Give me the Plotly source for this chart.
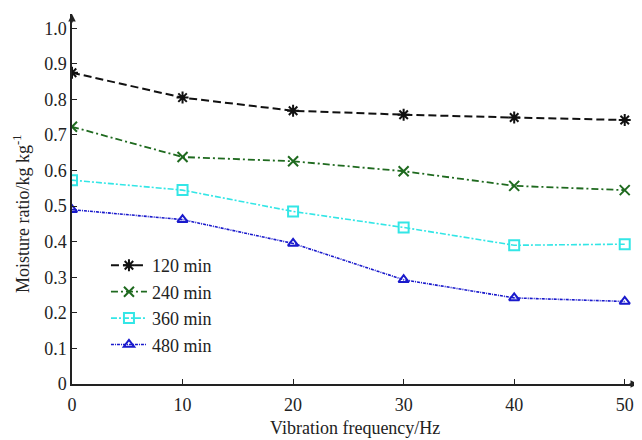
import plotly.graph_objects as go

freq = [0, 10, 20, 30, 40, 50]
mr_120 = [0.875, 0.805, 0.768, 0.757, 0.749, 0.742]
mr_240 = [0.723, 0.638, 0.626, 0.598, 0.557, 0.545]
mr_360 = [0.573, 0.545, 0.485, 0.440, 0.390, 0.393]
mr_480 = [0.490, 0.462, 0.395, 0.293, 0.242, 0.232]
series_names = ["120 min", "240 min", "360 min", "480 min"]

styles = [
    dict(color="#111111", dash="8px,4px", width=2, symbol="asterisk-open", size=10),
    dict(color="#1f6a1f", dash="7px,3px,2px,3px", width=1.8, symbol="x-thin-open", size=10),
    dict(color="#33e6e6", dash="6px,2px,2px,2px", width=1.6, symbol="square-open", size=10),
    dict(color="#1a1acc", dash="3px,1px,1px,1px", width=1.6, symbol="triangle-up-open", size=9),
]

fig = go.Figure()
for name, vals, st in zip(series_names, [mr_120, mr_240, mr_360, mr_480], styles):
    fig.add_trace(go.Scatter(
        x=freq, y=vals, name=name, mode="lines+markers",
        line=dict(color=st["color"], dash=st["dash"], width=st["width"]),
        marker=dict(symbol=st["symbol"], size=st["size"], color=st["color"],
                    line=dict(color=st["color"], width=2)),
    ))

serif = "Liberation Serif, Times New Roman, serif"
font = dict(family=serif, size=18, color="#222222")

# page body has an 8px default margin, so the figure is 8px smaller each way
fig.update_layout(
    width=634, height=432,
    margin=dict(l=64, r=4, t=6, b=56, autoexpand=False),
    paper_bgcolor="white", plot_bgcolor="white",
    font=font,
    showlegend=True,
    legend=dict(x=0.06, y=0.37, xanchor="left", yanchor="top",
                bgcolor="rgba(0,0,0,0)", font=dict(family=serif, size=18),
                itemwidth=36, tracegroupgap=0),
    xaxis=dict(range=[0, 51.2], tickvals=[0, 10, 20, 30, 40, 50], ticks="inside",
               ticklen=5, tickcolor="#222", showline=True, linecolor="#222",
               linewidth=1.5, showgrid=False, zeroline=False, automargin=False,
               ticklabelstandoff=4),
    yaxis=dict(range=[0, 1.04], tickvals=[0, 0.1, 0.2, 0.3, 0.4, 0.5, 0.6, 0.7, 0.8, 0.9, 1.0],
               ticktext=["0", "0.1", "0.2", "0.3", "0.4", "0.5", "0.6", "0.7", "0.8", "0.9", "1.0"],
               ticks="inside", ticklen=5, tickcolor="#222", showline=True,
               linecolor="#222", linewidth=1.5, showgrid=False, zeroline=False,
               automargin=False),
)

# axis titles
fig.add_annotation(text="Vibration frequency/Hz", xref="paper", yref="paper",
                   x=0.5, y=-0.12, xanchor="center", yanchor="middle",
                   showarrow=False, font=dict(family=serif, size=18, color="#222"))
fig.add_annotation(text="Moisture ratio/kg kg<sup>-1</sup>", xref="paper", yref="paper",
                   x=-0.088, y=0.46, xanchor="center", yanchor="middle", textangle=-90,
                   showarrow=False, font=dict(family=serif, size=18, color="#222"))

# axis arrows
fig.add_annotation(x=51.2, y=0, xref="x", yref="y", ax=-10, ay=0, text="",
                   showarrow=True, arrowhead=2, arrowsize=1, arrowwidth=1.5,
                   arrowcolor="#222")
fig.add_annotation(x=0, y=1.04, xref="x", yref="y", ax=0, ay=10, text="",
                   showarrow=True, arrowhead=2, arrowsize=1, arrowwidth=1.5,
                   arrowcolor="#222")

fig.write_html("out.html")
